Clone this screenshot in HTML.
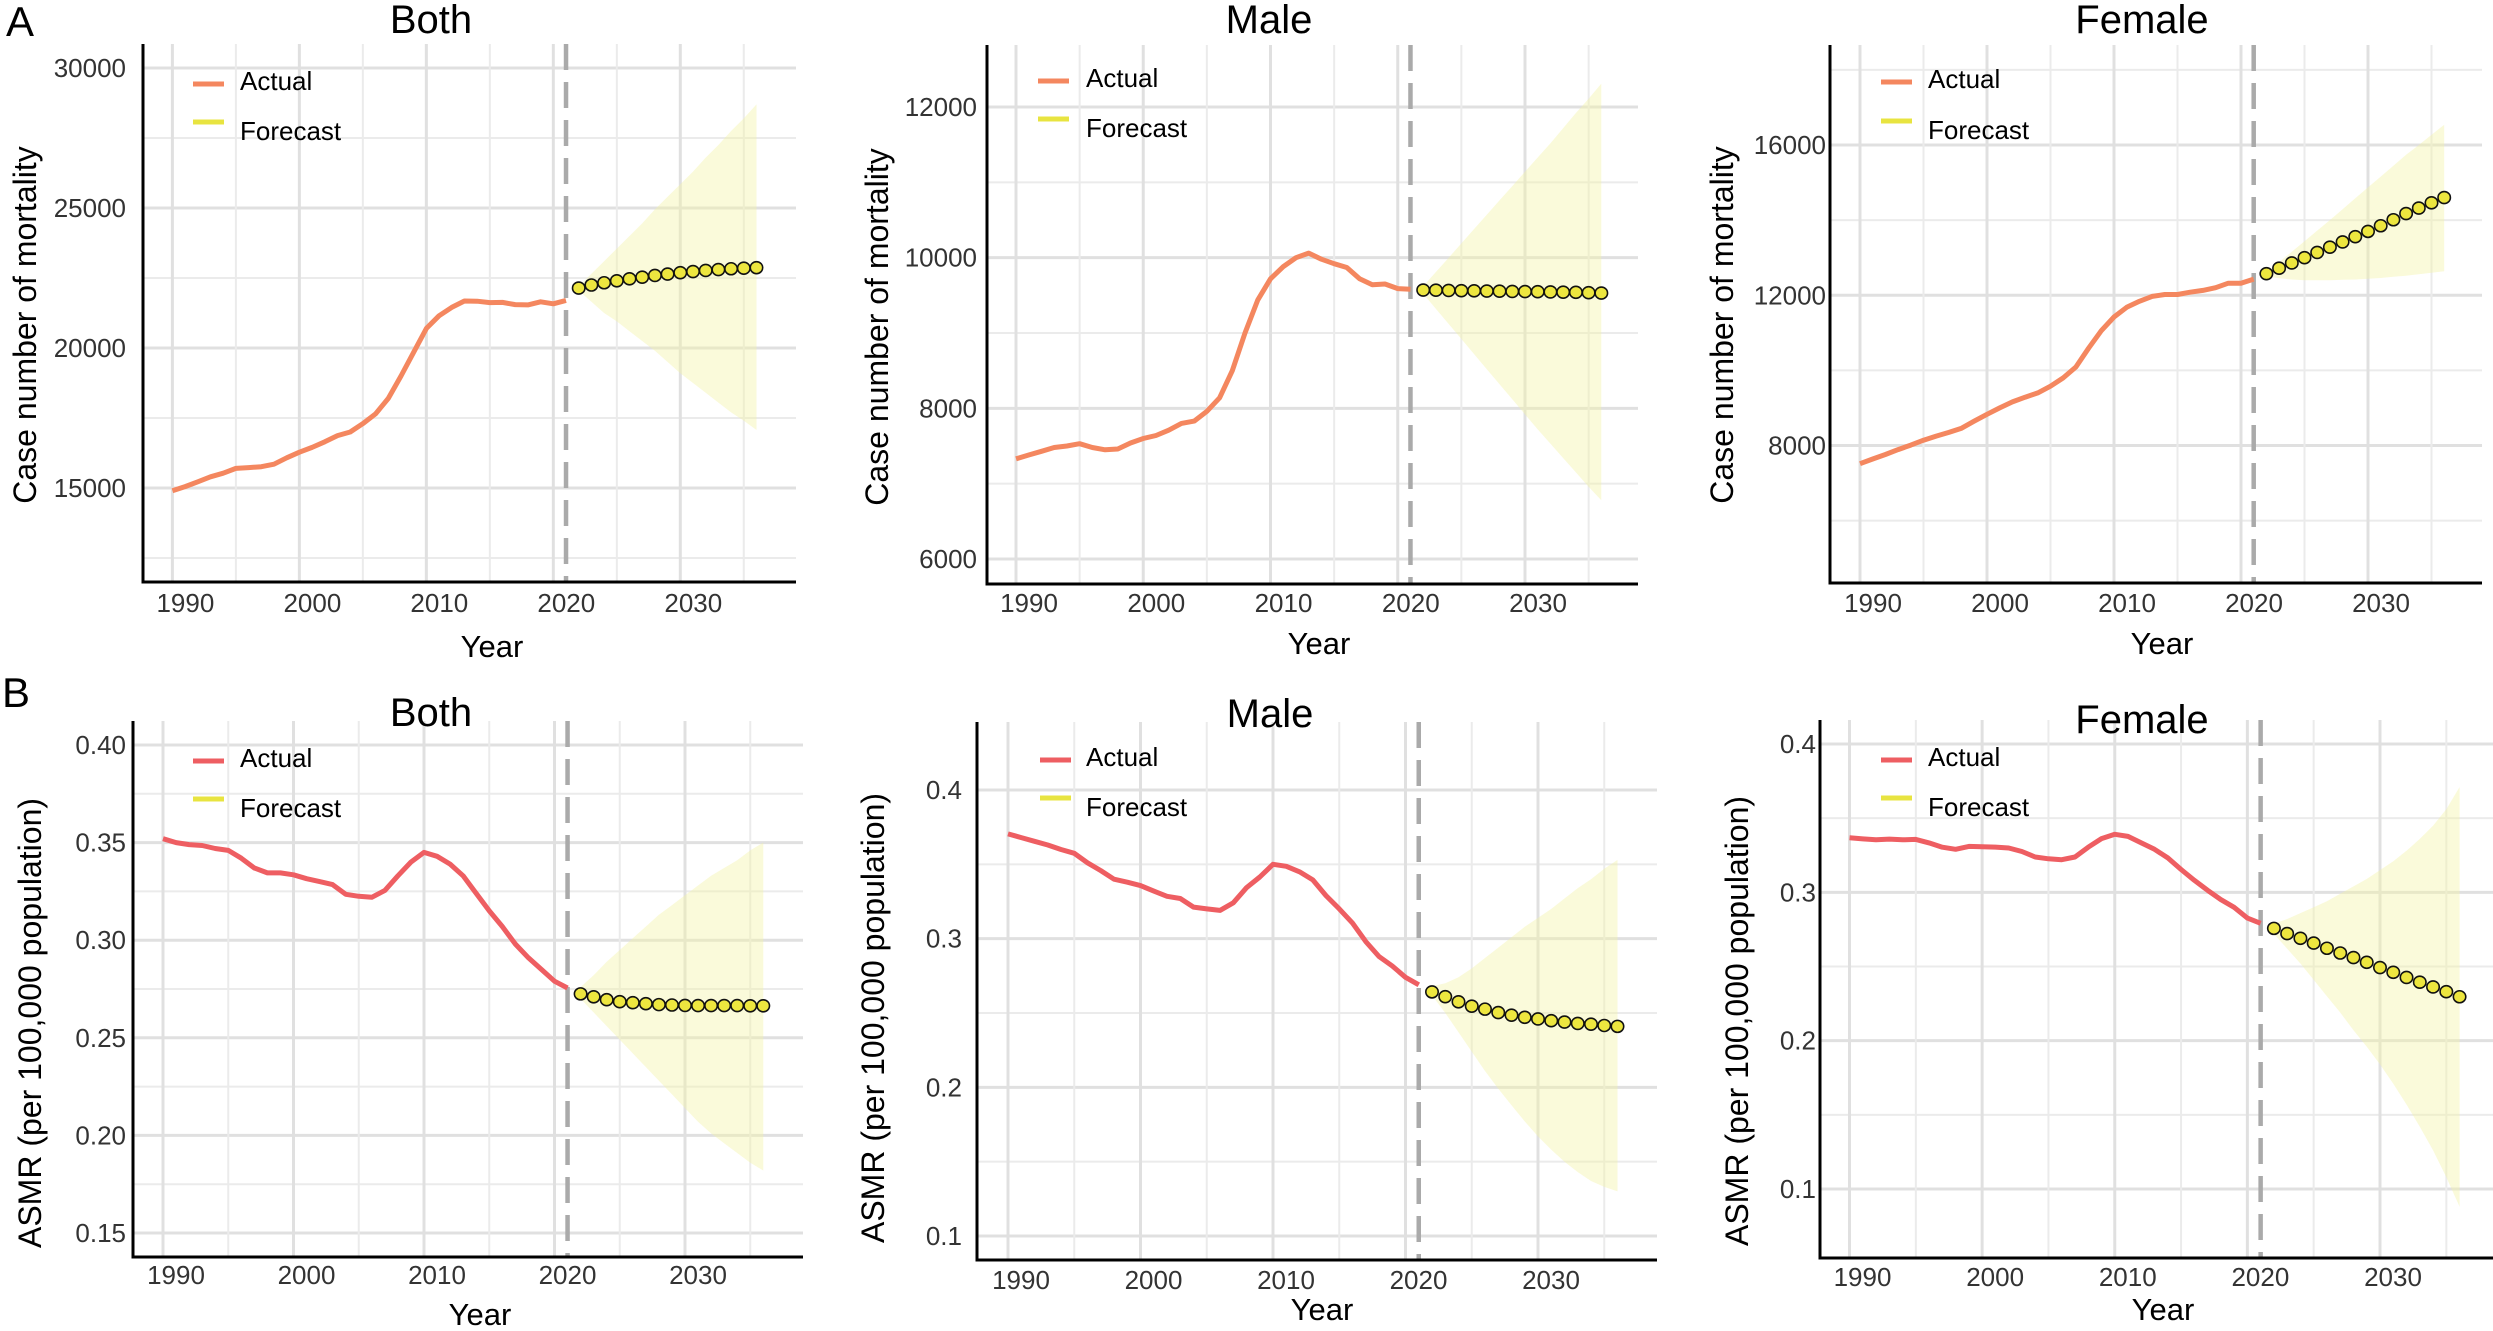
<!DOCTYPE html>
<html><head><meta charset="utf-8">
<style>
html,body{margin:0;padding:0;background:#fff;}
svg{display:block;font-family:"Liberation Sans",Arial,sans-serif;}
</style></head>
<body>
<svg id="fig" width="2493" height="1331" viewBox="0 0 2493 1331" xmlns="http://www.w3.org/2000/svg">
<rect x="0" y="0" width="2493" height="1331" fill="#fff"/>
<text x="6" y="36" font-size="42" fill="#000">A</text>
<text x="2" y="707" font-size="42" fill="#000">B</text>
</svg>
<script>
const actualYears = [1990,1991,1992,1993,1994,1995,1996,1997,1998,1999,2000,2001,2002,2003,2004,2005,2006,2007,2008,2009,2010,2011,2012,2013,2014,2015,2016,2017,2018,2019,2020,2021];
const forecastYears = [2022,2023,2024,2025,2026,2027,2028,2029,2030,2031,2032,2033,2034,2035,2036];
const xTickYears = [1990,2000,2010,2020,2030];
const xGridYears = [1990,1995,2000,2005,2010,2015,2020,2025,2030,2035];

const caseBothActual = [14900,15050,15220,15400,15530,15700,15730,15760,15850,16080,16280,16450,16650,16870,17000,17300,17650,18200,19000,19850,20700,21150,21450,21680,21670,21620,21630,21550,21540,21650,21580,21700];
const caseBothForecast = [22140,22250,22330,22400,22470,22530,22590,22640,22690,22730,22770,22800,22830,22850,22870];
const caseBothUpper = [22200,22650,23100,23550,24000,24450,24950,25400,25850,26300,26800,27250,27750,28200,28700];
const caseBothLower = [22050,21650,21250,20950,20600,20250,19900,19500,19100,18750,18400,18050,17700,17400,17070];

const caseMaleActual = [7330,7380,7430,7480,7500,7530,7480,7450,7460,7540,7600,7640,7710,7800,7830,7960,8140,8500,9000,9440,9720,9880,10000,10060,9980,9920,9870,9720,9640,9650,9590,9580];
const caseMaleForecast = [9570,9568,9565,9562,9560,9557,9555,9552,9550,9548,9545,9542,9540,9535,9530];
const caseMaleUpper = [9620,9810,10000,10190,10380,10570,10760,10950,11140,11330,11520,11720,11920,12110,12310];
const caseMaleLower = [9520,9320,9120,8920,8720,8520,8320,8120,7920,7720,7530,7340,7150,6960,6780];

const caseFemaleActual = [7516,7640,7760,7890,8010,8140,8250,8350,8460,8650,8830,9000,9160,9285,9400,9580,9800,10090,10590,11055,11420,11680,11840,11970,12020,12020,12080,12130,12200,12320,12320,12430];
const caseFemaleForecast = [12575,12720,12860,13000,13140,13280,13420,13560,13700,13850,14010,14175,14320,14460,14600];
const caseFemaleUpper = [12600,12880,13160,13440,13720,14000,14290,14580,14870,15160,15450,15740,16000,16270,16540];
const caseFemaleLower = [12500,12450,12420,12400,12400,12400,12410,12420,12440,12460,12490,12520,12560,12600,12640];

const asmrBothActual = [0.352,0.350,0.349,0.3485,0.347,0.346,0.342,0.337,0.3345,0.3345,0.3335,0.3315,0.330,0.3285,0.3235,0.3225,0.322,0.3255,0.333,0.340,0.345,0.343,0.339,0.333,0.324,0.315,0.307,0.298,0.291,0.285,0.279,0.2755];
const asmrBothForecast = [0.2725,0.271,0.2695,0.2685,0.268,0.2675,0.267,0.2668,0.2666,0.2665,0.2665,0.2665,0.2665,0.2664,0.2664];
const asmrBothUpper = [0.276,0.282,0.289,0.295,0.301,0.307,0.313,0.318,0.323,0.328,0.333,0.337,0.341,0.346,0.350];
const asmrBothLower = [0.270,0.263,0.256,0.249,0.242,0.235,0.228,0.221,0.214,0.207,0.201,0.196,0.191,0.186,0.182];

const asmrMaleActual = [0.3705,0.368,0.3655,0.363,0.360,0.3574,0.351,0.3458,0.340,0.338,0.3357,0.332,0.3285,0.327,0.3212,0.320,0.319,0.3241,0.3343,0.3415,0.350,0.3487,0.345,0.3395,0.329,0.320,0.3105,0.298,0.288,0.2816,0.274,0.269];
const asmrMaleForecast = [0.2642,0.261,0.2575,0.2546,0.2526,0.2503,0.2485,0.2471,0.246,0.2448,0.2439,0.243,0.2425,0.2416,0.241];
const asmrMaleUpper = [0.268,0.270,0.274,0.280,0.287,0.294,0.301,0.308,0.314,0.320,0.327,0.334,0.340,0.347,0.353];
const asmrMaleLower = [0.262,0.250,0.237,0.224,0.211,0.199,0.188,0.177,0.167,0.158,0.150,0.143,0.137,0.133,0.130];

const asmrFemaleActual = [0.3368,0.336,0.3354,0.3359,0.3354,0.3357,0.3333,0.3304,0.329,0.331,0.3307,0.3305,0.3299,0.3275,0.3238,0.3226,0.322,0.3238,0.3304,0.3362,0.3391,0.3377,0.3333,0.329,0.3232,0.3154,0.3081,0.3014,0.2951,0.2899,0.2826,0.2791];
const asmrFemaleForecast = [0.2757,0.2722,0.269,0.2658,0.2623,0.2591,0.256,0.2528,0.2493,0.2461,0.2426,0.2394,0.2362,0.233,0.2296];
const asmrFemaleUpper = [0.279,0.282,0.286,0.290,0.294,0.299,0.304,0.309,0.315,0.321,0.328,0.336,0.345,0.356,0.371];
const asmrFemaleLower = [0.272,0.262,0.252,0.241,0.230,0.219,0.207,0.196,0.184,0.171,0.157,0.142,0.126,0.108,0.088];

const caseBothTicks = [15000,20000,25000,30000];
const caseBothMinor = [12500,17500,22500,27500];
const caseMaleTicks = [6000,8000,10000,12000];
const caseMaleMinor = [7000,9000,11000];
const caseFemaleTicks = [8000,12000,16000];
const caseFemaleMinor = [6000,10000,14000,18000];
const asmrBothTicks = [0.15,0.20,0.25,0.30,0.35,0.40];
const asmrBothMinor = [0.175,0.225,0.275,0.325,0.375];
const asmrTicks = [0.1,0.2,0.3,0.4];
const asmrMinor = [0.15,0.25,0.35];

const NS = "http://www.w3.org/2000/svg";
const svg = document.getElementById('fig');
function mk(tag, attrs, parent){
  const e = document.createElementNS(NS, tag);
  for (const k in attrs) e.setAttribute(k, attrs[k]);
  (parent||svg).appendChild(e);
  return e;
}

const panels = [
 {id:'a-both', title:'Both', yTitle:'Case number of mortality', actual:caseBothActual, fc:caseBothForecast, up:caseBothUpper, lo:caseBothLower, ticks:caseBothTicks, minor:caseBothMinor, dec:0,
  L:143,R:796,T:44,B:582,x0:172.4,x1:680.3,v0:30000,p0:68,v1:15000,p1:488,labR:126, color:'#F4875F',
  titleX:431,titleY:33,ytX:25,ytY:325,xtX:492,xtY:657,tickY:612,legX:193,legTX:240,leg1:84,leg2:122},
 {id:'a-male', title:'Male', yTitle:'Case number of mortality', actual:caseMaleActual, fc:caseMaleForecast, up:caseMaleUpper, lo:caseMaleLower, ticks:caseMaleTicks, minor:caseMaleMinor, dec:0,
  L:987,R:1638,T:45,B:584,x0:1016,x1:1525,v0:12000,p0:107,v1:6000,p1:559,labR:977, color:'#F4875F',
  titleX:1269,titleY:33,ytX:877,ytY:327,xtX:1319,xtY:654,tickY:612,legX:1038,legTX:1086,leg1:81,leg2:119},
 {id:'a-female', title:'Female', yTitle:'Case number of mortality', actual:caseFemaleActual, fc:caseFemaleForecast, up:caseFemaleUpper, lo:caseFemaleLower, ticks:caseFemaleTicks, minor:caseFemaleMinor, dec:0,
  L:1830,R:2482,T:45,B:583,x0:1860,x1:2368,v0:16000,p0:145,v1:8000,p1:445.5,labR:1826, color:'#F4875F',
  titleX:2142,titleY:33,ytX:1722,ytY:325,xtX:2162,xtY:654,tickY:612,legX:1881,legTX:1928,leg1:82,leg2:121},
 {id:'b-both', title:'Both', yTitle:'ASMR (per 100,000 population)', actual:asmrBothActual, fc:asmrBothForecast, up:asmrBothUpper, lo:asmrBothLower, ticks:asmrBothTicks, minor:asmrBothMinor, dec:2,
  L:133,R:803,T:721,B:1257,x0:163,x1:685,v0:0.40,p0:745,v1:0.15,p1:1233,labR:126, color:'#EE5E62',
  titleX:431,titleY:726,ytX:30,ytY:1023,xtX:480,xtY:1325,tickY:1284,legX:193,legTX:240,leg1:761,leg2:799},
 {id:'b-male', title:'Male', yTitle:'ASMR (per 100,000 population)', actual:asmrMaleActual, fc:asmrMaleForecast, up:asmrMaleUpper, lo:asmrMaleLower, ticks:asmrTicks, minor:asmrMinor, dec:1,
  L:977,R:1657,T:722,B:1260,x0:1008,x1:1538,v0:0.4,p0:790,v1:0.1,p1:1236,labR:962, color:'#EE5E62',
  titleX:1270,titleY:727,ytX:873,ytY:1018,xtX:1322,xtY:1320,tickY:1289,legX:1040,legTX:1086,leg1:760,leg2:798},
 {id:'b-female', title:'Female', yTitle:'ASMR (per 100,000 population)', actual:asmrFemaleActual, fc:asmrFemaleForecast, up:asmrFemaleUpper, lo:asmrFemaleLower, ticks:asmrTicks, minor:asmrMinor, dec:1,
  L:1820,R:2493,T:720,B:1258,x0:1849.5,x1:2380,v0:0.4,p0:744,v1:0.1,p1:1189,labR:1816, color:'#EE5E62',
  titleX:2142,titleY:733,ytX:1737,ytY:1021,xtX:2163,xtY:1320,tickY:1286,legX:1881,legTX:1928,leg1:760,leg2:798}
];

panels.forEach(p => {
  const X = yr => p.x0 + (yr - 1990) * (p.x1 - p.x0) / 40;
  const Y = v => p.p0 + (v - p.v0) * (p.p1 - p.p0) / (p.v1 - p.v0);
  const g = mk('g', {});
  
  

  p.minor.forEach(v => {
    const y = Y(v); if (y < p.T || y > p.B) return;
    const l = mk('line', {x1:p.L, x2:p.R, y1:y, y2:y, stroke:'#ebebeb', 'stroke-width':2}, g);
    
    
  });
  p.ticks.forEach(v => {
    const y = Y(v);
    const l = mk('line', {x1:p.L, x2:p.R, y1:y, y2:y, stroke:'#e0e0e0', 'stroke-width':3}, g);
    
    
  });
  xGridYears.forEach(yr => {
    const x = X(yr);
    const major = yr % 10 === 0;
    const l = mk('line', {x1:x, x2:x, y1:p.T, y2:p.B, stroke: major ? '#e0e0e0' : '#ebebeb', 'stroke-width': major ? 3 : 2}, g);
    
    
  });

  let d = '';
  forecastYears.forEach((yr, i) => { d += (i ? 'L' : 'M') + X(yr).toFixed(1) + ',' + Y(p.up[i]).toFixed(1); });
  for (let i = forecastYears.length - 1; i >= 0; i--) d += 'L' + X(forecastYears[i]).toFixed(1) + ',' + Y(p.lo[i]).toFixed(1);
  d += 'Z';
  const band = mk('path', {d:d, fill:'#F2F2A8', 'fill-opacity':0.42}, g);
  
  

  const dl = mk('line', {x1:X(2021), x2:X(2021), y1:p.T, y2:p.B, stroke:'#aaaaaa', 'stroke-width':4.5, 'stroke-dasharray':'26,12'}, g);
  
  

  let ad = '';
  actualYears.forEach((yr, i) => { ad += (i ? 'L' : 'M') + X(yr).toFixed(1) + ',' + Y(p.actual[i]).toFixed(1); });
  const al = mk('path', {d:ad, fill:'none', stroke:p.color, 'stroke-width':5, 'stroke-linejoin':'round'}, g);
  
  

  forecastYears.forEach((yr, i) => {
    const c = mk('ellipse', {cx:X(yr), cy:Y(p.fc[i]), rx:6.2, ry:6, fill:'#EDE63F', stroke:'#111', 'stroke-width':1.6}, g);
    
    
  });

  const ya = mk('line', {x1:p.L, x2:p.L, y1:p.T, y2:p.B+1.5, stroke:'#000', 'stroke-width':3}, g);
  
  
  const xa = mk('line', {x1:p.L-1.5, x2:p.R, y1:p.B, y2:p.B, stroke:'#000', 'stroke-width':3}, g);
  
  

  p.ticks.forEach(v => {
    const t = mk('text', {x:p.labR, y:Y(v)+9, 'font-size':26, fill:'#333', 'text-anchor':'end'}, g);
    t.textContent = v.toFixed(p.dec);
    
    
  });
  xTickYears.forEach(yr => {
    const t = mk('text', {x:X(yr)+13, y:p.tickY, 'font-size':26, fill:'#333', 'text-anchor':'middle'}, g);
    t.textContent = String(yr);
    
    
  });

  const tt = mk('text', {x:p.titleX, y:p.titleY, 'font-size':40, fill:'#000', 'text-anchor':'middle'}, g);
  tt.textContent = p.title;
  
  
  const xt = mk('text', {x:p.xtX, y:p.xtY, 'font-size':31, fill:'#000', 'text-anchor':'middle'}, g);
  xt.textContent = 'Year';
  
  
  const yt = mk('text', {x:0, y:0, 'font-size':32, fill:'#000', 'text-anchor':'middle', transform:'translate(' + (p.ytX+11) + ',' + p.ytY + ') rotate(-90)'}, g);
  yt.textContent = p.yTitle;
  
  

  const k1 = mk('line', {x1:p.legX, x2:p.legX+31, y1:p.leg1, y2:p.leg1, stroke:p.color, 'stroke-width':5}, g);
  
  
  const l1 = mk('text', {x:p.legTX, y:p.leg1+6, 'font-size':26, fill:'#000'}, g);
  l1.textContent = 'Actual';
  
  
  const k2 = mk('line', {x1:p.legX, x2:p.legX+31, y1:p.leg2, y2:p.leg2, stroke:'#E8E440', 'stroke-width':5}, g);
  
  
  const l2 = mk('text', {x:p.legTX, y:p.leg2+18, 'font-size':26, fill:'#000'}, g);
  l2.textContent = 'Forecast';
  
  
});
</script>
</body></html>
